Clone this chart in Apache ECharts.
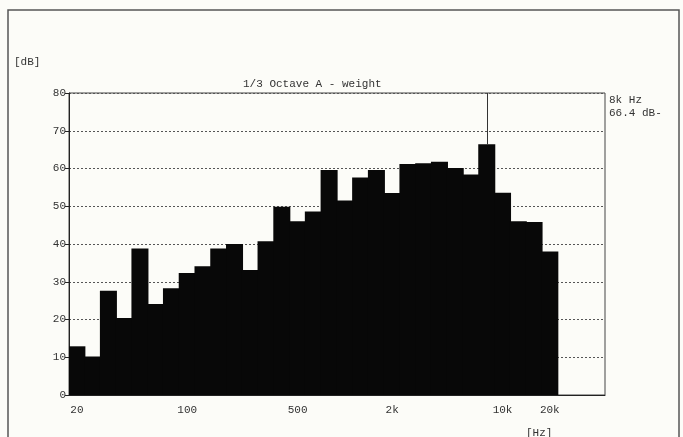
<!DOCTYPE html>
<html>
<head>
<meta charset="utf-8">
<script src="https://cdn.jsdelivr.net/npm/echarts@6/dist/echarts.min.js"></script>
<style>
  html, body { margin: 0; padding: 0; background: #fcfcf8; }
  #chart { width: 683px; height: 437px; }
</style>
</head>
<body>
<div id="chart"></div>
<script>
// 1/3-octave band centre frequencies, 20 Hz .. 20 kHz
const bands = ['20', '25', '31.5', '40', '50', '63', '80', '100', '125', '160',
  '200', '250', '315', '400', '500', '630', '800', '1k', '1.25k', '1.6k',
  '2k', '2.5k', '3.15k', '4k', '5k', '6.3k', '8k', '10k', '12.5k', '16k', '20k'];

// A-weighted level per band, dB
const levels = [12.9, 10.2, 27.6, 20.4, 38.8, 24.1, 28.3, 32.3, 34.1, 38.8,
  40.0, 33.1, 40.7, 49.9, 46.0, 48.6, 59.6, 51.5, 57.6, 59.6,
  53.5, 61.2, 61.4, 61.8, 60.1, 58.4, 66.4, 53.6, 46.0, 45.8, 38.0];

// Bands that carry a frequency label on the x axis
const freqTicks = ['20', '100', '500', '2k', '10k', '20k'];

// Unused slots kept free to the right of the 20 kHz band
const spareSlots = ['', '', ''];

// Level axis ticks
const dbTicks = [0, 10, 20, 30, 40, 50, 60, 70, 80];

// Cursor readout band
const cursorBand = '8k';
const cursorLevel = levels[bands.indexOf(cursorBand)];

const titleText = '1/3 Octave A - weight';
const FONT = 'Liberation Mono';
const INK = '#333';
const BAR = '#080808';

const chart = echarts.init(document.getElementById('chart'), null, { renderer: 'canvas' });

chart.setOption({
  backgroundColor: '#fcfcf8',
  animation: false,
  textStyle: { fontFamily: FONT, color: INK },
  title: {
    text: titleText,
    left: 243,
    top: 79,
    padding: 0,
    textStyle: { fontFamily: FONT, fontSize: 11, fontWeight: 'normal', color: INK }
  },
  grid: {
    left: 69, right: 78, top: 93, bottom: 42,
    show: true, borderColor: '#444', borderWidth: 1, backgroundColor: 'transparent'
  },
  xAxis: {
    type: 'category',
    data: bands.concat(spareSlots),
    boundaryGap: true,
    axisLine: { lineStyle: { color: '#222', width: 1 } },
    axisTick: {
      alignWithLabel: true,
      length: 4,
      interval: (i, v) => freqTicks.includes(v),
      lineStyle: { color: '#222' }
    },
    axisLabel: {
      interval: (i, v) => freqTicks.includes(v),
      margin: 10,
      fontFamily: FONT, fontSize: 11, color: INK
    },
    splitLine: { show: false }
  },
  yAxis: {
    type: 'value',
    min: dbTicks[0],
    max: dbTicks[dbTicks.length - 1],
    interval: dbTicks[1] - dbTicks[0],
    axisLine: { show: true, lineStyle: { color: '#222', width: 1 } },
    axisTick: { show: true, length: 4, lineStyle: { color: '#222' } },
    axisLabel: { margin: 3, fontFamily: FONT, fontSize: 11, color: INK },
    splitLine: { show: true, lineStyle: { color: '#555', type: [2, 2], width: 1 } }
  },
  series: [{
    type: 'bar',
    data: levels,
    barWidth: '108%',
    itemStyle: { color: BAR },
    silent: true,
    markLine: {
      silent: true,
      symbol: 'none',
      label: { show: false },
      lineStyle: { color: '#333', width: 1, type: 'solid' },
      data: [[
        { coord: [cursorBand, dbTicks[dbTicks.length - 1]] },
        { coord: [cursorBand, cursorLevel] }
      ]]
    }
  }],
  graphic: [
    {
      type: 'rect', silent: true,
      shape: { x: 8, y: 10, width: 671, height: 470 },
      style: { fill: 'none', stroke: '#555', lineWidth: 1.5 }
    },
    {
      type: 'text', left: 14, top: 57,
      style: { text: '[dB]', font: '11px ' + FONT, fill: INK }
    },
    {
      type: 'text', left: 609, top: 95,
      style: { text: cursorBand + ' Hz', font: '11px ' + FONT, fill: INK }
    },
    {
      type: 'text', left: 609, top: 108,
      style: { text: cursorLevel.toFixed(1) + ' dB-', font: '11px ' + FONT, fill: INK }
    },
    {
      type: 'text', left: 526, top: 428,
      style: { text: '[Hz]', font: '11px ' + FONT, fill: INK }
    }
  ]
});
</script>
</body>
</html>
